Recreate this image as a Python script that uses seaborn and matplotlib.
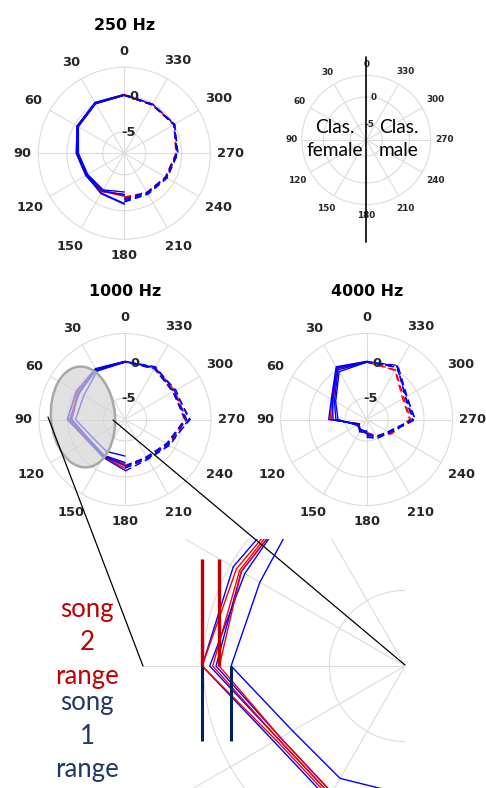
import numpy as np
import pandas as pd
import matplotlib
matplotlib.use("Agg")
import matplotlib.pyplot as plt
import seaborn as sns
from matplotlib.patches import Ellipse

# ---------------- data (dB) ----------------
angles_female = [0, 30, 60, 90, 120, 150, 180]        # solid, left half
angles_male = [180, 210, 240, 270, 300, 330, 360]     # dashed, right half
theta_ticks = [0, 30, 60, 90, 120, 150, 180, 210, 240, 270, 300, 330]
r_ticks = [-5, 0]
r_limits = [-8, 4]
titles = ["250 Hz", "1000 Hz", "4000 Hz"]

hz250_female_song1 = [[0.2, 0.2, -0.4, -1.3, -1.8, -1.6, -1.0],
                      [0.1, 0.1, -0.5, -1.5, -2.0, -1.9, -2.2],
                      [0.2, 0.1, -0.4, -1.4, -1.9, -1.5, -0.9],
                      [0.1, 0.0, -0.6, -1.6, -2.1, -2.1, -2.6]]
hz250_female_song2 = [[0.1, 0.0, -0.5, -1.4, -1.9, -1.9, -2.0],
                      [0.2, 0.1, -0.4, -1.3, -1.8, -1.8, -2.3],
                      [0.1, 0.0, -0.5, -1.5, -2.0, -2.0, -2.1]]
hz250_male_song1 = [[-1.3, -1.5, -1.2, -0.6, 0.1, -0.1, 0.2],
                    [-1.5, -1.6, -1.3, -0.7, 0.0, -0.2, 0.1],
                    [-1.2, -1.4, -1.1, -0.5, 0.1, -0.1, 0.2],
                    [-1.6, -1.7, -1.3, -0.6, 0.0, -0.2, 0.1]]
hz250_male_song2 = [[-1.8, -1.6, -1.3, -0.7, 0.0, -0.2, 0.1],
                    [-1.9, -1.7, -1.4, -0.8, 0.0, -0.1, 0.2],
                    [-1.7, -1.6, -1.2, -0.7, 0.1, -0.2, 0.1]]

hz1000_female_song1 = [[0.1, 0.2, -0.13, 0.05, -2.0, -1.9, -0.9],
                       [0.1, 0.1, -0.66, -0.25, -2.2, -2.1, -1.6],
                       [0.0, 0.0, -0.5, -0.5, -2.3, -2.2, -2.0],
                       [0.0, -0.2, -1.35, -1.1, -2.85, -2.85, -2.9]]
hz1000_female_song2 = [[0.1, 0.1, -0.28, 0.05, -2.1, -2.0, -1.2],
                       [0.1, 0.1, -0.42, -0.37, -2.2, -2.1, -1.5],
                       [0.0, 0.0, -0.5, -0.63, -2.3, -2.2, -1.8]]
hz1000_male_song1 = [[-1.2, -1.7, -1.0, 1.1, 0.0, 0.5, 0.1],
                     [-1.5, -1.9, -1.2, 0.6, -0.2, 0.3, 0.1],
                     [-0.8, -1.6, -0.8, 0.9, 0.2, 0.4, 0.0],
                     [-1.4, -2.0, -1.3, 0.4, -0.3, 0.2, 0.0]]
hz1000_male_song2 = [[-1.6, -1.8, -1.1, 0.3, -0.1, 0.3, 0.1],
                     [-1.3, -1.7, -1.0, 0.6, 0.0, 0.4, 0.1],
                     [-1.5, -1.9, -1.2, 0.5, -0.1, 0.2, 0.0]]

hz4000_female_song1 = [[0.1, 0.5, -2.3, -2.7, -6.8, -6.0, -6.2],
                       [0.0, 0.3, -2.5, -3.3, -6.6, -6.1, -6.4],
                       [0.0, 0.0, -2.8, -3.7, -6.5, -6.3, -6.0],
                       [0.0, -0.3, -3.0, -4.0, -6.4, -6.4, -6.3]]
hz4000_female_song2 = [[0.1, 0.4, -2.4, -2.9, -6.8, -6.2, -6.3],
                       [0.0, 0.2, -2.6, -3.1, -6.7, -6.1, -6.2]]
hz4000_male_song1 = [[-5.6, -5.0, -4.4, -1.3, -1.5, 0.7, 0.1],
                     [-5.8, -5.2, -4.6, -1.5, -1.7, 0.5, 0.0],
                     [-6.0, -5.3, -4.5, -1.6, -1.8, 0.6, 0.1],
                     [-5.5, -5.0, -4.3, -1.2, -1.6, 0.4, 0.0]]
hz4000_male_song2 = [[-6.2, -5.4, -4.0, -1.9, -2.0, 0.0, 0.0],
                     [-6.0, -5.3, -4.1, -2.0, -2.2, -0.1, 0.1]]

# ---------------- style ----------------
sns.set_style("white")
plt.rcParams["font.family"] = ["DejaVu Sans"]

W, H = 486, 788
BLUE, RED = "#0000ff", "#ff0000"
GRID = "#dcdcdc"
TICK = "#262626"
PALETTE = {"song 1": BLUE, "song 2": RED}
HUE_ORDER = ["song 2", "song 1"]
DASH = (0, (5, 3))

fig = plt.figure(figsize=(W / 100, H / 100), dpi=100)


def rect(cx, cy, R):
    return [(cx - R) / W, (H - cy - R) / H, 2 * R / W, 2 * R / H]


def long_df(angles, song1, song2, side):
    rows = []
    for song, series in (("song 1", song1), ("song 2", song2)):
        for i, vals in enumerate(series):
            for a, v in zip(angles, vals):
                rows.append(dict(theta=np.deg2rad(a), angle=a, value=v,
                                 song=song, unit=f"{side}-{song}-{i}"))
    return pd.DataFrame(rows)


def setup_polar(ax, R_px, scale=1.0, title=None):
    ax.set_theta_zero_location("N")
    ax.set_theta_direction(1)
    ax.set_ylim(r_limits)
    ax.set_yticks(r_ticks)
    ax.set_yticklabels([])
    ax.set_xticks(np.deg2rad(theta_ticks))
    ax.set_xticklabels([])
    ax.set_xlabel("")
    ax.set_ylabel("")
    ax.grid(True, color=GRID, lw=0.8)
    ax.spines["polar"].set_color(GRID)
    ax.spines["polar"].set_linewidth(0.8)
    ax.tick_params(length=0)
    span = r_limits[1] - r_limits[0]
    for t in theta_ticks:
        lab = str(t)
        w2 = len(lab) * 8.9 * scale / 2
        h2 = 9.5 * scale
        gap = 6.7 * scale
        s, c = abs(np.sin(np.deg2rad(t))), abs(np.cos(np.deg2rad(t)))
        off = R_px + gap + s * w2 + c * h2
        ax.text(np.deg2rad(t), r_limits[0] + off / R_px * span, lab,
                ha="center", va="center", fontsize=9.4 * scale,
                fontweight="bold", color=TICK, clip_on=False)
    for rt in r_ticks:
        ax.text(np.deg2rad(350), rt, str(rt), ha="center", va="center",
                fontsize=9.4 * scale, fontweight="bold", color=TICK, zorder=5)
    if title:
        ax.set_title(title, y=1.245, pad=0, va="center",
                     fontsize=11.4, fontweight="bold", color="black")


def draw_lines(ax, fem1, fem2, mal1, mal2):
    dff = long_df(angles_female, fem1, fem2, "f")
    dfm = long_df(angles_male, mal1, mal2, "m")
    sns.lineplot(data=dff, x="theta", y="value", hue="song", palette=PALETTE,
                 hue_order=HUE_ORDER, units="unit", estimator=None,
                 sort=False, lw=1.0, ax=ax, legend=False)
    sns.lineplot(data=dfm, x="theta", y="value", hue="song", palette=PALETTE,
                 hue_order=HUE_ORDER, units="unit", estimator=None,
                 sort=False, lw=1.0, ls=DASH, ax=ax, legend=False)


R = 86
# 250 Hz
ax250 = fig.add_axes(rect(124.3, 153.3, R), projection="polar")
draw_lines(ax250, hz250_female_song1, hz250_female_song2, hz250_male_song1, hz250_male_song2)
setup_polar(ax250, R, title=titles[0])

# legend panel
axleg = fig.add_axes(rect(366.3, 140, 64.5), projection="polar")
setup_polar(axleg, 64.5, scale=0.68)

# 1000 Hz
ax1k = fig.add_axes(rect(125, 419.5, R), projection="polar")
draw_lines(ax1k, hz1000_female_song1, hz1000_female_song2, hz1000_male_song1, hz1000_male_song2)
setup_polar(ax1k, R, title=titles[1])

# 4000 Hz
ax4k = fig.add_axes(rect(366.7, 419.5, R), projection="polar")
draw_lines(ax4k, hz4000_female_song1, hz4000_female_song2, hz4000_male_song1, hz4000_male_song2)
setup_polar(ax4k, R, title=titles[2])

# ---------------- zoomed inset of 1000 Hz ----------------
S = 25.2  # px per dB in the inset
ax_in = fig.add_axes([143 / W, 0, 262 / W, 249 / H])
rad0 = -r_limits[0]
phi = np.linspace(0, 2 * np.pi, 721)
for rt in r_ticks + [r_limits[1]]:
    rr = rt + rad0
    ax_in.plot(-rr * np.sin(phi), rr * np.cos(phi), color=GRID, lw=0.8)
for t in theta_ticks:
    tr = np.deg2rad(t)
    rr = r_limits[1] + rad0
    ax_in.plot([0, -rr * np.sin(tr)], [0, rr * np.cos(tr)], color=GRID, lw=0.8)

for angles, s1, s2, side, ls in ((angles_female, hz1000_female_song1, hz1000_female_song2, "f", "-"),
                                 (angles_male, hz1000_male_song1, hz1000_male_song2, "m", DASH)):
    d = long_df(angles, s1, s2, side)
    d["x"] = -(d["value"] + rad0) * np.sin(d["theta"])
    d["y"] = (d["value"] + rad0) * np.cos(d["theta"])
    sns.lineplot(data=d, x="x", y="y", hue="song", palette=PALETTE,
                 hue_order=["song 1", "song 2"], units="unit", estimator=None,
                 sort=False, lw=1.0, ls=ls, ax=ax_in, legend=False)

i90 = angles_female.index(90)
red90 = [s[i90] for s in hz1000_female_song2]
blue90 = [s[i90] for s in hz1000_female_song1]
ax_in.vlines([-(max(red90) + rad0), -(min(red90) + rad0)], 0, 107 / S,
             color="#c00000", lw=2.4, zorder=6)
ax_in.vlines([-(max(blue90) + rad0), -(min(blue90) + rad0)], -75 / S, 0,
             color="#002060", lw=2.2, zorder=6)
ax_in.set_xlim(-262 / S, 0)
ax_in.set_ylim(-122 / S, 127 / S)
ax_in.axis("off")
ax_in.patch.set_alpha(0)

# ---------------- overlay (annotations) ----------------
ov = fig.add_axes([0, 0, 1, 1], zorder=10)
ov.set_xlim(0, W)
ov.set_ylim(H, 0)
ov.axis("off")
ov.patch.set_alpha(0)
ov.add_patch(Ellipse((83, 417), 64, 101, angle=-4.6,
                     facecolor=(0.83, 0.83, 0.83, 0.68), edgecolor="#a8a8a8", lw=1.8))
ov.plot([48, 143], [417, 666], color="black", lw=0.9)
ov.plot([113, 405], [420, 665], color="black", lw=0.9)
ov.plot([366.3, 366.3], [56.7, 241.7], color="black", lw=1.2)

ov.text(334.5, 139, "Clas.\nfemale", family="Lato", fontsize=13.8, ha="center",
        va="center", linespacing=1.45, color="black")
ov.text(398.5, 139, "Clas.\nmale", family="Lato", fontsize=13.8, ha="center",
        va="center", linespacing=1.45, color="black")
ov.text(87, 643, "song\n2\nrange", family="Lato", fontsize=18.5, ha="center",
        va="center", linespacing=1.42, color="#c00000")
ov.text(87, 736, "song\n1\nrange", family="Lato", fontsize=18.5, ha="center",
        va="center", linespacing=1.42, color="#203864")

fig.savefig("out.png", dpi=100)
